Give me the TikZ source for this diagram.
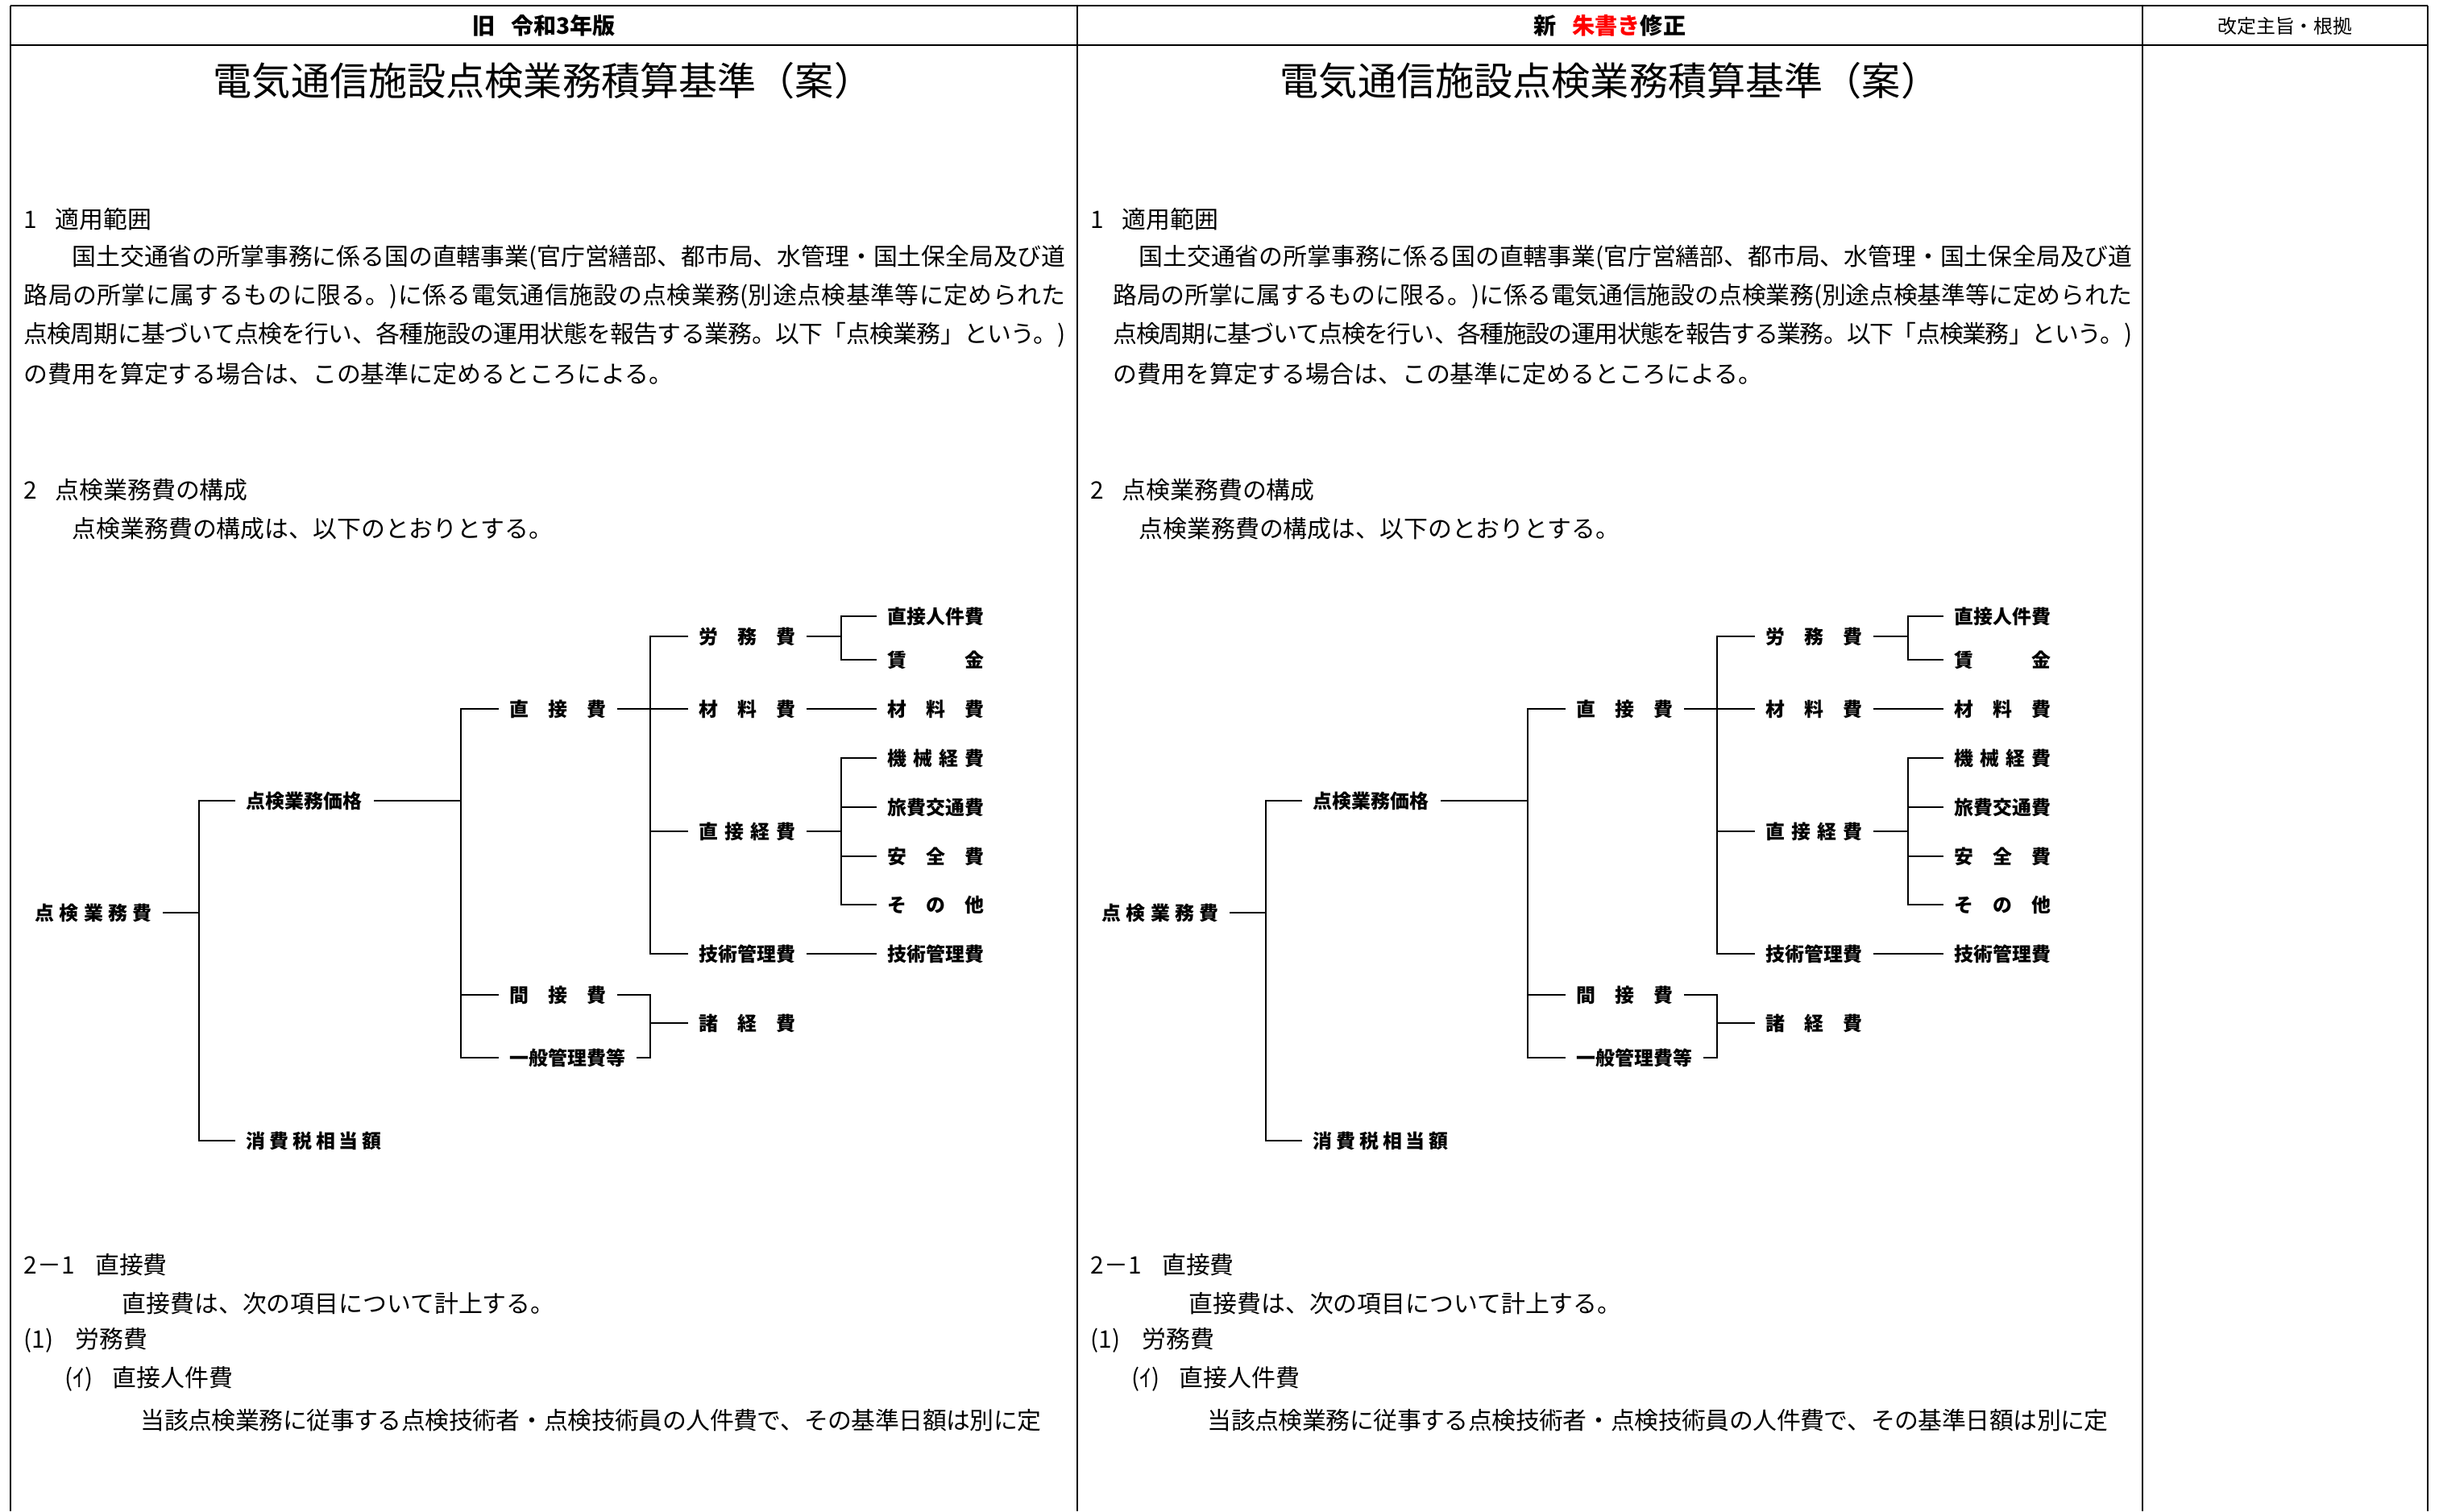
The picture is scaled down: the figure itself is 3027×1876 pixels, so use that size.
\documentclass[tikz,border=0pt]{standalone}
\usepackage{fontspec}
\setmainfont{Noto Sans CJK JP}
\XeTeXlinebreaklocale "ja"
\XeTeXlinebreakskip=0pt plus 0.1em minus 0.1em

\tikzset{
	bar/.style={line width=0.8pt},
	rule/.style={line width=0.6pt},
	branch/.style={line width=0.4pt},
	item/.style={anchor=west, inner xsep=1.3mm, inner ysep=0.5mm, font=\bfseries\fontsize{6.8pt}{8pt}\selectfont},
	body/.style={anchor=west, inner sep=0pt, font=\fontsize{8.5pt}{10pt}\selectfont},
	headtext/.style={font=\bfseries\fontsize{8pt}{9pt}\selectfont},
	doctitle/.style={font=\fontsize{13.7pt}{16pt}\selectfont}
}

\def\spread#1#2{\makebox[#1][s]{#2}}
\def\fullline#1#2{\parbox{#1}{\parfillskip=0pt\relax #2}}

% cost breakdown tree, drawn once per column
\newcommand\costtree{%
	\node[item] (all) at (30,1133) {\spread{14.5mm}{点\hfill 検\hfill 業\hfill 務\hfill 費}};
	\node[item] (price) at (292,994) {\spread{14.5mm}{点検業務価格}};
	\node[item] (tax) at (292,1416) {\spread{16.8mm}{消\hfill 費\hfill 税\hfill 相\hfill 当\hfill 額}};
	
	\node[item] (direct) at (619,880) {\spread{12mm}{直\hfill 接\hfill 費}};
	\node[item] (indirect) at (619,1235) {\spread{12mm}{間\hfill 接\hfill 費}};
	\node[item] (general) at (619,1313) {\spread{14.4mm}{一般管理費等}};
	
	\node[item] (labor) at (854,790) {\spread{12mm}{労\hfill 務\hfill 費}};
	\node[item] (material) at (854,880) {\spread{12mm}{材\hfill 料\hfill 費}};
	\node[item] (expense) at (854,1032) {\spread{12mm}{直\hfill 接\hfill 経\hfill 費}};
	\node[item] (techfee) at (854,1184) {\spread{12mm}{技術管理費}};
	\node[item] (misc) at (854,1270) {\spread{12mm}{諸\hfill 経\hfill 費}};
	
	\node[item] (wage1) at (1088,765) {\spread{12mm}{直接人件費}};
	\node[item] (wage2) at (1088,819) {\spread{12mm}{賃\hfill 金}};
	\node[item] (material2) at (1088,880) {\spread{12mm}{材\hfill 料\hfill 費}};
	\node[item] (machine) at (1088,941) {\spread{12mm}{機\hfill 械\hfill 経\hfill 費}};
	\node[item] (travel) at (1088,1002) {\spread{12mm}{旅費交通費}};
	\node[item] (safety) at (1088,1063) {\spread{12mm}{安\hfill 全\hfill 費}};
	\node[item] (other) at (1088,1123) {\spread{12mm}{そ\hfill の\hfill 他}};
	\node[item] (techfee2) at (1088,1184) {\spread{12mm}{技術管理費}};
	
	\coordinate (b1) at (247,1133);
	\coordinate (b2) at (572,994);
	\coordinate (b3) at (807,880);
	\coordinate (b3b) at (807,1270);
	\coordinate (b4) at (1044,790);
	\coordinate (b5) at (1044,1032);
	
	\draw[branch] (all) -- (b1);
	\draw[branch] (price.west) -| (b1) |- (tax.west);
	\draw[branch] (price) -- (b2);
	\draw[branch] (direct.west) -| (b2) |- (general.west);
	\draw[branch] (indirect.west) -- (indirect.west -| b2);
	\draw[branch] (direct) -- (material);
	\draw[branch] (labor.west) -| (b3) |- (techfee.west);
	\draw[branch] (expense.west) -- (expense.west -| b3);
	\draw[branch] (indirect.east) -| (b3b) |- (general.east);
	\draw[branch] (misc) -- (b3b);
	\draw[branch] (labor) -- (b4);
	\draw[branch] (wage1.west) -| (b4) |- (wage2.west);
	\draw[branch] (material) -- (material2);
	\draw[branch] (expense) -- (b5);
	\draw[branch] (machine.west) -| (b5) |- (other.west);
	\draw[branch] (travel.west) -- (travel.west -| b5);
	\draw[branch] (safety.west) -- (safety.west -| b5);
	\draw[branch] (techfee) -- (techfee2);
}

% body text of one column: #1 extra indent, #2 width of the wrapped lines
\newcommand\columntext[2]{%
	\node[doctitle] (title) at (674,100) {電気通信施設点検業務積算基準（案）};
	
	\node[body] (sec1) at (29,272) {1\hspace{0.75em}適用範囲};
	\node[body] (para1) at (89,320) {\fullline{123.3mm}{国土交通省の所掌事務に係る国の直轄事業(官庁営繕部、都市局、水管理・国土保全局及び道}};
	\node[body] (para2) at (29+#1,368) {\fullline{#2}{路局の所掌に属するものに限る。)に係る電気通信施設の点検業務(別途点検基準等に定められた}};
	\node[body] (para3) at (29+#1,416) {\fullline{#2}{点検周期に基づいて点検を行い、各種施設の運用状態を報告する業務。以下「点検業務」という。)}};
	\node[body] (para4) at (29+#1,464) {の費用を算定する場合は、この基準に定めるところによる。};
	
	\node[body] (sec2) at (29,608) {2\hspace{0.75em}点検業務費の構成};
	\node[body] (para5) at (89,656) {点検業務費の構成は、以下のとおりとする。};
	
	\node[body] (sec21) at (29,1570) {2－1\hspace{0.85em}直接費};
	\node[body] (para6) at (151,1618) {直接費は、次の項目について計上する。};
	\node[body] (item1) at (29,1664) {(1)\hspace{0.9em}労務費};
	\node[body] (item2) at (80,1712) {(ｲ)\hspace{0.8em}直接人件費};
	\node[body] (para7) at (174,1763) {\fullline{111.8mm}{当該点検業務に従事する点検技術者・点検技術員の人件費で、その基準日額は別に定}};
}

\begin{document}
\begin{tikzpicture}[x=0.1mm, y=-0.1mm]
	\useasboundingbox (0,0) rectangle (3027,1876);
	
	%%%%% TABLE %%%%%
	\draw[bar] (13,7) -- (3013,7);
	\draw[bar] (13,56) -- (3013,56);
	\draw[rule] (13,7) -- (13,1876);
	\draw[rule] (1337,7) -- (1337,1876);
	\draw[rule] (2659,7) -- (2659,1876);
	\draw[rule] (3013,7) -- (3013,1876);
	
	\node[headtext] (oldhead) at (675,32) {旧\hspace{0.7em}令和3年版};
	\node[headtext] (newhead) at (1998,32) {新\hspace{0.7em}\textcolor{red}{朱書き}修正};
	\node[font=\fontsize{6.8pt}{8pt}\selectfont] (notehead) at (2836,32) {改定主旨・根拠};
	
	%%%%% OLD %%%%%
	\begin{scope}[name prefix=L-]
		\columntext{0}{129.3mm}
		\costtree
	\end{scope}
	
	%%%%% NEW %%%%%
	\begin{scope}[shift={(1324,0)}, name prefix=R-]
		\columntext{28}{126.5mm}
		\costtree
	\end{scope}
\end{tikzpicture}
\end{document}
